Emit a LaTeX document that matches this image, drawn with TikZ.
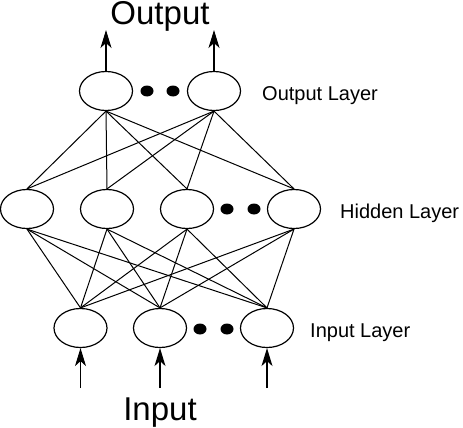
\documentclass[tikz,border=0pt]{standalone}
\usepackage{fontspec}
\setmainfont{Liberation Sans}
\usetikzlibrary{shapes.geometric,arrows.meta}
\begin{document}
\begin{tikzpicture}[x=1pt,y=-1pt,
 neuron/.style={ellipse,draw,line width=1.2pt,minimum width=53pt,minimum height=39pt,inner sep=0pt},
 bigdot/.style={ellipse,fill,minimum width=13pt,minimum height=11pt,inner sep=0pt},
 link/.style={line width=1pt},
 arr/.style={line width=1.1pt,-{Stealth[length=18pt,width=11pt,inset=5pt]}},
 lbl/.style={font=\fontsize{20}{24}\selectfont,anchor=base west,inner sep=0pt},
 big/.style={font=\fontsize{33}{40}\selectfont,anchor=base,inner sep=0pt}]
\useasboundingbox (0,0) rectangle (463,428);
% output layer
\node[neuron] (o1) at (106,91) {};
\node[neuron] (o2) at (214,91) {};
\node[bigdot] (od1) at (147,91) {};
\node[bigdot] (od2) at (173,91) {};
% hidden layer
\node[neuron] (h1) at (27,209) {};
\node[neuron] (h2) at (107,209) {};
\node[neuron] (h3) at (187,209) {};
\node[neuron] (h4) at (294,209) {};
\node[bigdot] (hd1) at (227,209) {};
\node[bigdot] (hd2) at (254,209) {};
% input layer
\node[neuron] (i1) at (80.5,328) {};
\node[neuron] (i2) at (160,328) {};
\node[neuron] (i3) at (267,328) {};
\node[bigdot] (id1) at (200,329) {};
\node[bigdot] (id2) at (227,329) {};
% labels
\node[lbl] (lo) at (262,100) {Output Layer};
\node[lbl] (lh) at (340,218) {Hidden Layer};
\node[lbl] (li) at (310,337) {Input Layer};
\node[big] (tout) at (160,25) {Output};
\node[big] (tin) at (160,420) {Input};
% connections
\foreach \o in {o1,o2}
  \foreach \h in {h1,h2,h3,h4}
    \draw[link] (\o.south) -- (\h.north);
\foreach \h in {h1,h2,h3,h4}
  \foreach \i in {i1,i2,i3}
    \draw[link] (\h.south) -- (\i.north);
% arrows
\coordinate (a1) at (106,30);
\coordinate (a2) at (214,30);
\draw[arr] (o1.north) -- (a1);
\draw[arr] (o2.north) -- (a2);
\coordinate (b1) at (80.5,388);
\coordinate (b2) at (160,388);
\coordinate (b3) at (267,388);
\draw[arr] (b1) -- (i1.south);
\draw[arr] (b2) -- (i2.south);
\draw[arr] (b3) -- (i3.south);
\end{tikzpicture}
\end{document}
